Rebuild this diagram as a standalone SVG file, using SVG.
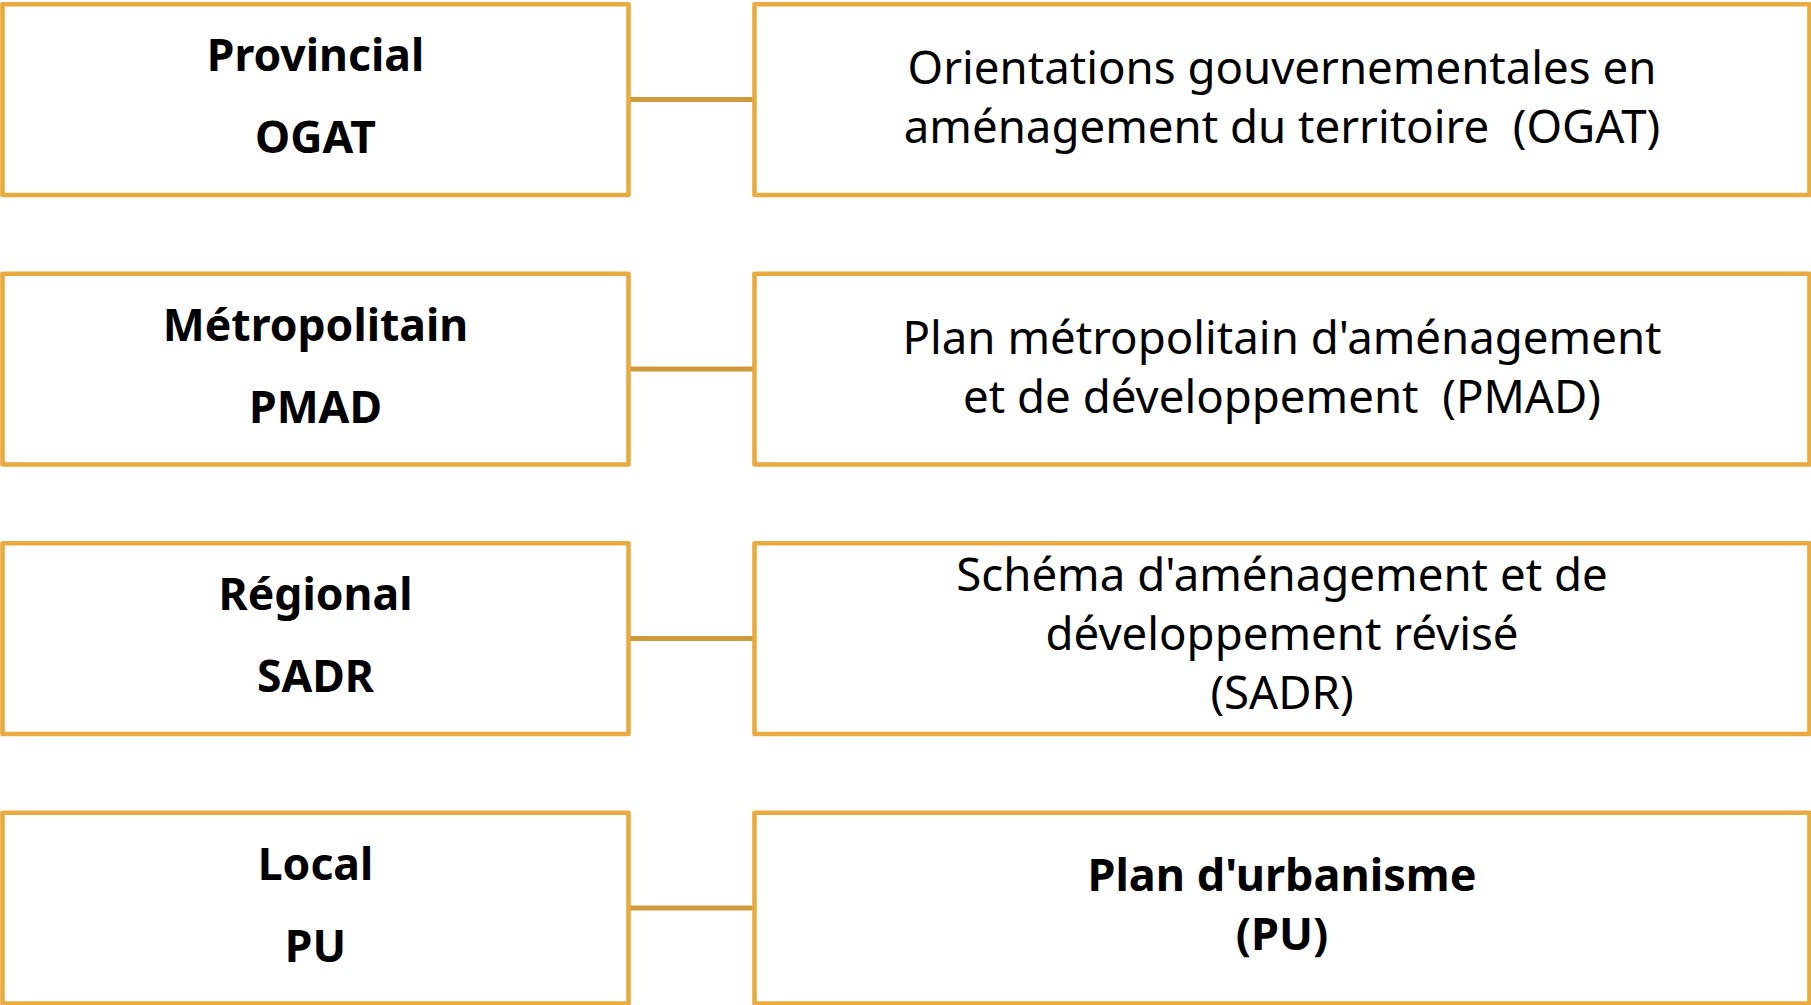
<svg xmlns="http://www.w3.org/2000/svg" width="1811" height="1005" viewBox="0 0 1811 1005">
<style>
.box{fill:#fff;stroke:#E9AB40;stroke-width:4.6;stroke-linejoin:round}
.con{stroke:#CF9A3C;stroke-width:5;fill:none}
.lt{font-family:"Noto Sans","Open Sans",sans-serif;font-weight:bold;font-size:44.5px;fill:#000;text-anchor:middle}
.rt{font-family:"Noto Sans","Open Sans",sans-serif;font-size:45.6px;fill:#000;text-anchor:middle;white-space:pre}
.rb{font-weight:bold;font-size:45px}
</style>
<rect width="1811" height="1005" fill="#fff"/>
<g id="connectors">
<line class="con" x1="628.5" y1="99.5" x2="754.5" y2="99.5"/>
<line class="con" x1="628.5" y1="369" x2="754.5" y2="369"/>
<line class="con" x1="628.5" y1="638.5" x2="754.5" y2="638.5"/>
<line class="con" x1="628.5" y1="908" x2="754.5" y2="908"/>
</g>
<g id="provincial">
<rect class="box" x="2.5" y="4.3" width="626" height="190.7"/>
<text class="lt" x="315.5" y="71">Provincial</text>
<text class="lt" x="315.5" y="153">OGAT</text>
</g>
<g id="ogat">
<rect class="box" x="754.5" y="4.3" width="1055" height="190.7"/>
<text class="rt" x="1282" y="84">Orientations gouvernementales en</text>
<text class="rt" x="1282" y="143">aménagement du territoire  (OGAT)</text>
</g>
<g id="metropolitain">
<rect class="box" x="2.5" y="273.8" width="626" height="190.7"/>
<text class="lt" x="315.5" y="340.5">Métropolitain</text>
<text class="lt" x="315.5" y="422.5">PMAD</text>
</g>
<g id="pmad">
<rect class="box" x="754.5" y="273.8" width="1055" height="190.7"/>
<text class="rt" x="1282" y="353.5">Plan métropolitain d'aménagement</text>
<text class="rt" x="1282" y="412.5">et de développement  (PMAD)</text>
</g>
<g id="regional">
<rect class="box" x="2.5" y="543.3" width="626" height="190.7"/>
<text class="lt" x="315.5" y="610">Régional</text>
<text class="lt" x="315.5" y="692">SADR</text>
</g>
<g id="sadr">
<rect class="box" x="754.5" y="543.3" width="1055" height="190.7"/>
<text class="rt" x="1282" y="591">Schéma d'aménagement et de</text>
<text class="rt" x="1282" y="650">développement révisé</text>
<text class="rt" x="1282" y="709">(SADR)</text>
</g>
<g id="local">
<rect class="box" x="2.5" y="812.8" width="626" height="190.7"/>
<text class="lt" x="315.5" y="879.5">Local</text>
<text class="lt" x="315.5" y="961.5">PU</text>
</g>
<g id="pu">
<rect class="box" x="754.5" y="812.8" width="1055" height="190.7"/>
<text class="rt rb" x="1282" y="891">Plan d'urbanisme</text>
<text class="rt rb" x="1282" y="950">(PU)</text>
</g>
</svg>
